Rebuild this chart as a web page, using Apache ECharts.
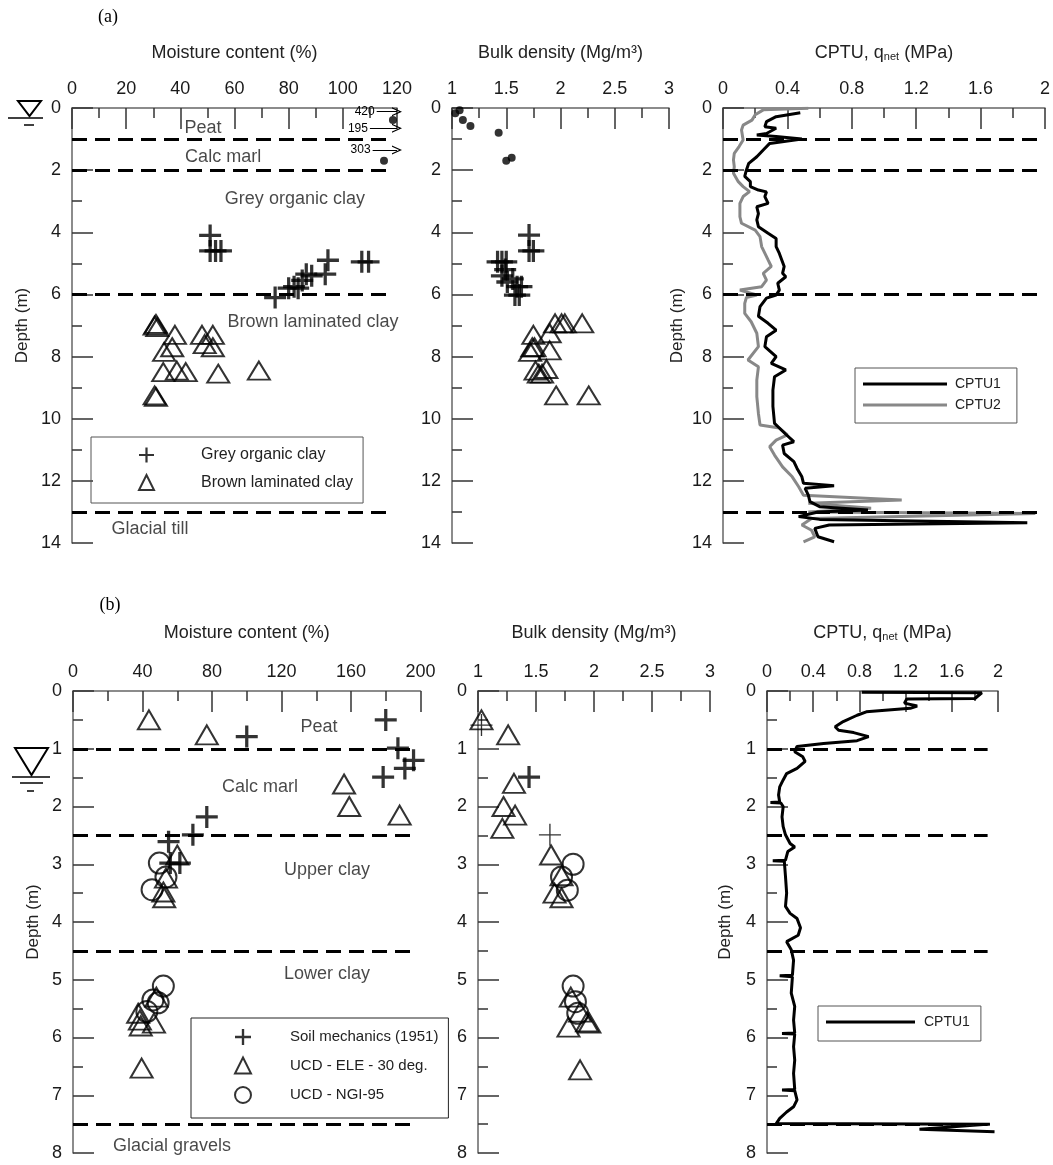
<!DOCTYPE html>
<html>
<head>
<meta charset="utf-8">
<script src="https://cdn.jsdelivr.net/npm/echarts@6/dist/echarts.min.js"></script>
<style>
  html, body { margin: 0; padding: 0; background: #fff; }
  #chart { width: 1053px; height: 1165px; }
</style>
</head>
<body>
<div id="chart"></div>
<script>
// ---- (a) moisture content (%) vs depth (m)
const greyClayMoistA = [[51,4.1],[51,4.6],[53,4.6],[55,4.6],[94.5,4.9],[93.5,5.35],[107,4.95],[109.5,4.95],
  [86.5,5.35],[88.5,5.4],[85,5.55],[82,5.75],[83.5,5.8],[80,5.8],[75,6.1]];
const brownClayMoistA = [[30.5,7.0],[31,6.95],[31.5,7.05],[38,7.3],[48,7.3],[52,7.3],[49,7.6],[52,7.7],[37,7.7],
  [34,7.85],[33.7,8.5],[38.7,8.45],[42,8.5],[54,8.55],[69,8.45],[30.5,9.25],[31,9.3]];
const upperMoistA = [[118.5,0.39],[115.2,1.7]];
// off-scale values shown with arrows
const offScaleA = [
  { label: '420', from: 112.5, depth: 0.12 },
  { label: '195', from: 110, depth: 0.65 },
  { label: '303', from: 111, depth: 1.35 }
];

// ---- (a) bulk density (Mg/m3)
const upperDensA = [[1.03,0.17],[1.07,0.07],[1.10,0.39],[1.17,0.58],[1.43,0.8],[1.5,1.7],[1.55,1.6]];
const greyClayDensA = [[1.71,4.09],[1.71,4.6],[1.75,4.6],[1.42,4.95],[1.46,4.95],[1.5,4.95],[1.49,5.2],[1.46,5.4],
  [1.51,5.6],[1.56,5.5],[1.64,5.75],[1.6,5.75],[1.62,6.02],[1.58,6.02]];
const brownClayDensA = [[1.95,6.93],[2.01,6.93],[2.04,6.93],[2.2,6.93],[1.75,7.3],[1.9,7.25],[1.74,7.7],[1.76,7.7],
  [1.72,7.85],[1.9,7.8],[1.87,8.4],[1.77,8.45],[1.8,8.55],[1.83,8.55],[1.96,9.25],[2.26,9.25]];

// ---- (a) CPTU q_net (MPa)
const cptu1A = [[0.48,0.15],[0.33,0.28],[0.27,0.44],[0.26,0.6],[0.33,0.65],[0.27,0.82],[0.21,0.87],[0.33,0.92],
  [0.49,1.0],[0.29,1.14],[0.25,1.35],[0.21,1.57],[0.16,1.78],[0.145,2.0],[0.135,2.2],[0.17,2.37],[0.17,2.53],
  [0.22,2.64],[0.27,2.7],[0.26,2.85],[0.28,3.07],[0.21,3.18],[0.22,3.4],[0.21,3.6],[0.22,3.82],[0.28,4.03],
  [0.33,4.2],[0.33,4.46],[0.35,4.68],[0.38,5.1],[0.37,5.32],[0.39,5.43],[0.34,5.64],[0.35,5.86],[0.33,6.02],
  [0.27,6.12],[0.23,6.39],[0.22,6.7],[0.28,6.93],[0.33,7.15],[0.27,7.36],[0.26,7.68],[0.33,8.0],[0.30,8.22],
  [0.39,8.43],[0.32,8.65],[0.31,9.08],[0.31,9.6],[0.32,10.15],[0.35,10.3],[0.39,10.5],[0.44,10.74],[0.37,10.85],
  [0.38,11.12],[0.44,11.38],[0.46,11.6],[0.49,11.87],[0.5,12.08],[0.69,12.16],[0.51,12.24],[0.53,12.46],
  [0.54,12.67],[0.6,12.83],[0.9,12.94],[0.59,13.0],[0.47,13.15],[0.6,13.24],[1.89,13.35],[0.66,13.42],
  [0.57,13.53],[0.59,13.8],[0.69,13.96]];
const cptu2A = [[0.53,0.01],[0.25,0.06],[0.2,0.22],[0.18,0.39],[0.125,0.55],[0.115,0.71],[0.125,1.03],[0.10,1.24],
  [0.07,1.46],[0.065,1.67],[0.07,1.89],[0.065,2.1],[0.095,2.37],[0.125,2.53],[0.165,2.69],[0.125,2.85],
  [0.105,3.07],[0.105,3.5],[0.115,3.71],[0.2,3.93],[0.23,4.14],[0.24,4.46],[0.28,4.89],[0.3,5.1],[0.25,5.32],
  [0.27,5.54],[0.24,5.75],[0.105,5.86],[0.21,6.02],[0.145,6.1],[0.135,6.29],[0.135,6.61],[0.175,6.88],
  [0.21,7.25],[0.22,7.68],[0.155,8.11],[0.22,8.33],[0.21,8.76],[0.21,9.29],[0.22,9.83],[0.23,10.2],[0.35,10.3],
  [0.4,10.52],[0.33,10.69],[0.29,10.9],[0.32,11.17],[0.37,11.55],[0.43,11.87],[0.47,12.19],[0.5,12.46],
  [1.11,12.62],[0.53,12.72],[0.92,12.88],[0.53,13.0],[1.94,13.05],[0.55,13.21],[0.49,13.42],[0.55,13.59],
  [0.57,13.8],[0.5,13.96]];

// ---- (b) moisture content
const soilMoistB = [[180,0.5],[100,0.79],[187,0.99],[196,1.2],[191,1.34],[178.5,1.49],[77,2.18],[69,2.49],
  [55,2.61],[61.5,2.98],[56,2.98]];
const eleMoistB = [[43.7,0.5],[77,0.76],[156,1.61],[159,2.0],[188,2.15],[60,2.84],[53.5,3.24],[52,3.48],
  [52.5,3.58],[48,5.3],[37.5,5.58],[38.5,5.7],[39,5.8],[46.6,5.75],[39.5,6.53]];
const ngiMoistB = [[49.7,2.98],[53.5,3.22],[45.5,3.44],[52,5.11],[46,5.35],[49,5.4],[42.5,5.55]];

// ---- (b) bulk density
const soilDensB = [[1.03,0.59],[1.44,1.49],[1.62,2.49]];
const soilDensBThin = [true, false, true];
const eleDensB = [[1.03,0.5],[1.26,0.76],[1.31,1.6],[1.22,2.0],[1.32,2.15],[1.21,2.38],[1.63,2.84],[1.72,3.2],
  [1.66,3.5],[1.72,3.58],[1.8,5.3],[1.88,5.56],[1.94,5.73],[1.96,5.75],[1.78,5.82],[1.88,6.56]];
const ngiDensB = [[1.82,3.0],[1.72,3.22],[1.77,3.45],[1.82,5.11],[1.84,5.38],[1.86,5.58]];

// ---- (b) CPTU
const cptu1B = [[0.82,0.02],[1.86,0.03],[1.80,0.13],[1.21,0.14],[1.19,0.21],[1.3,0.26],[1.24,0.3],[0.86,0.36],
  [0.78,0.42],[0.66,0.53],[0.59,0.62],[0.62,0.68],[0.75,0.72],[0.88,0.79],[0.78,0.86],[0.49,0.91],[0.26,0.96],
  [0.24,1.05],[0.31,1.14],[0.33,1.22],[0.26,1.34],[0.17,1.43],[0.14,1.54],[0.11,1.66],[0.10,1.8],[0.11,1.92],
  [0.03,1.93],[0.12,1.94],[0.14,2.0],[0.13,2.18],[0.14,2.35],[0.16,2.49],[0.2,2.64],[0.24,2.7],[0.18,2.78],
  [0.16,2.93],[0.05,2.94],[0.15,2.95],[0.16,3.21],[0.17,3.5],[0.16,3.73],[0.2,3.85],[0.26,3.94],[0.29,4.1],
  [0.27,4.23],[0.17,4.34],[0.21,4.48],[0.23,4.66],[0.22,4.92],[0.11,4.93],[0.22,4.95],[0.21,5.23],[0.24,5.46],
  [0.23,5.7],[0.24,5.92],[0.13,5.93],[0.24,5.94],[0.23,6.16],[0.24,6.39],[0.23,6.62],[0.24,6.9],[0.13,6.91],
  [0.24,6.92],[0.26,7.08],[0.23,7.2],[0.17,7.29],[0.11,7.4],[0.08,7.49],[1.93,7.5],[1.32,7.59],[1.97,7.63]];

// layer boundaries (depth, m) and soil layer names
const boundariesA = [1, 2, 6, 13];
const boundariesB = [1, 2.5, 4.5, 7.5];
const layersA = [
  { name: 'Peat', x: 48.4, d: 0.64 }, { name: 'Calc marl', x: 55.8, d: 1.58 },
  { name: 'Grey organic clay', x: 82.3, d: 2.93 }, { name: 'Brown laminated clay', x: 89, d: 6.89 },
  { name: 'Glacial till', x: 28.8, d: 13.55 }
];
const layersB = [
  { name: 'Peat', x: 141.6, d: 0.62 }, { name: 'Calc marl', x: 107.6, d: 1.66 },
  { name: 'Upper clay', x: 146.2, d: 3.1 }, { name: 'Lower clay', x: 146.2, d: 4.9 },
  { name: 'Glacial gravels', x: 57, d: 7.88 }
];

const SANS = "'Liberation Sans', Arial, Helvetica, sans-serif";
const SERIF = "'Liberation Serif', 'Times New Roman', serif";
const PLUS = 'path://M9.8,0H13.2V9.8H23V13.2H13.2V23H9.8V13.2H0V9.8H9.8Z';
const PLUS_THIN = 'path://M10.8,0H12.2V10.8H23V12.2H12.2V23H10.8V12.2H0V10.8H10.8Z';
const CHEVRON = 'path://M5,0L10,10L8.6,10L5,2.8L1.4,10L0,10Z';

const chart = echarts.init(document.getElementById('chart'));

function xAxis(gridIndex, min, max, interval, name, gap) {
  return {
    type: 'value', gridIndex, position: 'top', min, max, interval,
    name, nameLocation: 'middle', nameGap: gap,
    nameTextStyle: { fontSize: 18, fontFamily: SANS, color: '#222',
      rich: { sub: { fontSize: 11, fontFamily: SANS, color: '#222', verticalAlign: 'bottom' } } },
    axisLine: { show: true, lineStyle: { color: '#666', width: 1.5 } },
    axisTick: { show: true, inside: true, length: 21, lineStyle: { color: '#333', width: 1.5 } },
    minorTick: { show: true, splitNumber: 2, length: 10, lineStyle: { color: '#333', width: 1.5 } },
    axisLabel: { margin: 10, fontSize: 18, fontFamily: SANS, color: '#1a1a1a' },
    splitLine: { show: false }, minorSplitLine: { show: false }
  };
}

function yAxis(gridIndex, max, interval, name, gap) {
  return {
    type: 'value', gridIndex, inverse: true, min: 0, max, interval, position: 'left',
    name: name || '', nameLocation: 'middle', nameRotate: 90, nameGap: gap || 0,
    nameTextStyle: { fontSize: 17, fontFamily: SANS, color: '#222' },
    axisLine: { show: true, onZero: false, lineStyle: { color: '#666', width: 1.5 } },
    axisTick: { show: true, inside: true, length: 21, lineStyle: { color: '#333', width: 1.5 } },
    minorTick: { show: true, splitNumber: 2, length: 10, lineStyle: { color: '#333', width: 1.5 } },
    axisLabel: { margin: 11, fontSize: 18, fontFamily: SANS, color: '#1a1a1a' },
    splitLine: { show: false }, minorSplitLine: { show: false }
  };
}

function boundaryLines(depths, x0, x1) {
  return {
    silent: true, symbol: 'none', animation: false,
    label: { show: false },
    lineStyle: { color: '#000', width: 3, type: [15, 8] },
    data: depths.map(d => [{ coord: [x0, d] }, { coord: [x1, d] }])
  };
}

function plusSeries(name, idx, data, extra) {
  return Object.assign({
    name, type: 'scatter', xAxisIndex: idx, yAxisIndex: idx, data,
    symbol: PLUS, symbolSize: 22, itemStyle: { color: '#000' }, z: 3
  }, extra || {});
}
function triSeries(name, idx, data, size) {
  return {
    name, type: 'scatter', xAxisIndex: idx, yAxisIndex: idx, data,
    symbol: 'triangle', symbolSize: size,
    itemStyle: { color: 'rgba(0,0,0,0)', borderColor: '#000', borderWidth: 2 }, z: 2
  };
}
function circSeries(name, idx, data) {
  return {
    name, type: 'scatter', xAxisIndex: idx, yAxisIndex: idx, data,
    symbol: 'circle', symbolSize: 21,
    itemStyle: { color: 'rgba(0,0,0,0)', borderColor: '#000', borderWidth: 2 }, z: 2
  };
}
function layerLabels(idx, list) {
  return {
    name: 'layers', type: 'scatter', xAxisIndex: idx, yAxisIndex: idx, silent: true,
    symbolSize: 1, itemStyle: { color: 'rgba(0,0,0,0)' },
    data: list.map(l => ({ name: l.name, value: [l.x, l.d] })),
    label: { show: true, position: 'inside', formatter: '{b}', fontSize: 18, fontFamily: SANS, color: '#1a1a1a' }
  };
}

const option = {
  animation: false,
  backgroundColor: '#fff',
  textStyle: { fontFamily: SANS },
  grid: [
    { left: 72, top: 108, width: 325, height: 435 },
    { left: 452, top: 108, width: 217, height: 435 },
    { left: 723, top: 108, width: 326, height: 435 },
    { left: 73, top: 691, width: 347.5, height: 462 },
    { left: 478, top: 691, width: 232, height: 462 },
    { left: 767, top: 691, width: 231, height: 462 }
  ],
  xAxis: [
    xAxis(0, 0, 120, 20, 'Moisture content (%)', 46),
    xAxis(1, 1, 3, 0.5, 'Bulk density (Mg/m³)', 46),
    xAxis(2, 0, 2, 0.4, 'CPTU, q{sub|net} (MPa)', 46),
    xAxis(3, 0, 200, 40, 'Moisture content (%)', 49),
    xAxis(4, 1, 3, 0.5, 'Bulk density (Mg/m³)', 49),
    xAxis(5, 0, 2, 0.4, 'CPTU, q{sub|net} (MPa)', 49)
  ],
  yAxis: [
    yAxis(0, 14, 2, 'Depth (m)', 41),
    yAxis(1, 14, 2),
    yAxis(2, 14, 2, 'Depth (m)', 37),
    yAxis(3, 8, 1, 'Depth (m)', 31),
    yAxis(4, 8, 1),
    yAxis(5, 8, 1, 'Depth (m)', 33)
  ],
  legend: [
    {
      orient: 'vertical', left: 91, top: 437, selectedMode: false,
      data: ['Grey organic clay', 'Brown laminated clay'],
      itemWidth: 15, itemHeight: 15, itemGap: 11, padding: [10, 10, 12, 47],
      borderColor: '#555', borderWidth: 1, borderRadius: 0,
      textStyle: { fontSize: 16, fontFamily: SANS, color: '#222', lineHeight: 15, padding: [0, 0, 0, 42] }
    },
    {
      orient: 'vertical', left: 855, top: 368, selectedMode: false,
      data: [{ name: 'CPTU1', icon: 'path://M0,0H84V3H0Z' }, { name: 'CPTU2', icon: 'path://M0,0H84V3H0Z' }],
      itemWidth: 84, itemHeight: 14, itemGap: 7, padding: [9, 16, 11, 8],
      borderColor: '#555', borderWidth: 1, borderRadius: 0,
      textStyle: { fontSize: 14, fontFamily: SANS, color: '#222', lineHeight: 14, padding: [0, 0, 0, 3] }
    },
    {
      orient: 'vertical', left: 191, top: 1018, selectedMode: false,
      data: ['Soil mechanics (1951)', 'UCD - ELE - 30 deg.', 'UCD - NGI-95'],
      itemWidth: 16, itemHeight: 16, itemGap: 11.5, padding: [11, 10, 14, 43],
      borderColor: '#222', borderWidth: 1, borderRadius: 0,
      textStyle: { fontSize: 15, fontFamily: SANS, color: '#222', lineHeight: 16, padding: [0, 0, 0, 34] }
    },
    {
      orient: 'vertical', left: 818, top: 1006, selectedMode: false,
      data: [{ name: 'CPTU1', icon: 'path://M0,0H89V3H0Z' }],
      itemWidth: 89, itemHeight: 14, padding: [9, 11, 12, 8],
      borderColor: '#555', borderWidth: 1, borderRadius: 0,
      textStyle: { fontSize: 14, fontFamily: SANS, color: '#222', lineHeight: 14, padding: [0, 0, 0, 4] }
    }
  ],
  series: [
    // (a) moisture
    plusSeries('Grey organic clay', 0, greyClayMoistA, { markLine: boundaryLines(boundariesA, 0, 116.6) }),
    triSeries('Brown laminated clay', 0, brownClayMoistA, [22, 18]),
    {
      name: 'Peat / marl', type: 'scatter', xAxisIndex: 0, yAxisIndex: 0, data: upperMoistA,
      symbol: 'circle', symbolSize: 8, itemStyle: { color: '#000' },
      markLine: {
        silent: true, symbol: ['none', CHEVRON], symbolSize: [9, 10],
        lineStyle: { color: '#000', width: 1, type: 'solid' },
        label: { show: true, position: 'start', formatter: '{b}', fontSize: 12, fontFamily: SANS, color: '#000', distance: 2 },
        data: offScaleA.map(a => [{ coord: [a.from, a.depth], name: a.label }, { coord: [120, a.depth] }])
      }
    },
    layerLabels(0, layersA),
    // (a) density
    plusSeries('Grey organic clay', 1, greyClayDensA),
    triSeries('Brown laminated clay', 1, brownClayDensA, [22, 18]),
    {
      name: 'Peat / marl', type: 'scatter', xAxisIndex: 1, yAxisIndex: 1, data: upperDensA,
      symbol: 'circle', symbolSize: 8, itemStyle: { color: '#000' }
    },
    // (a) CPTU
    {
      name: 'CPTU2', type: 'line', xAxisIndex: 2, yAxisIndex: 2, data: cptu2A, symbol: 'none',
      lineStyle: { color: '#888', width: 3 }, itemStyle: { color: '#888' }, z: 2,
      markLine: boundaryLines(boundariesA, 0, 1.975)
    },
    {
      name: 'CPTU1', type: 'line', xAxisIndex: 2, yAxisIndex: 2, data: cptu1A, symbol: 'none',
      lineStyle: { color: '#000', width: 3 }, itemStyle: { color: '#000' }, z: 3
    },
    // (b) moisture
    plusSeries('Soil mechanics (1951)', 3, soilMoistB, { markLine: boundaryLines(boundariesB, 0, 194) }),
    triSeries('UCD - ELE - 30 deg.', 3, eleMoistB, [22, 19]),
    circSeries('UCD - NGI-95', 3, ngiMoistB),
    layerLabels(3, layersB),
    // (b) density
    plusSeries('Soil mechanics (1951)', 4, soilDensB.map((p, i) => ({
      value: p, symbol: soilDensBThin[i] ? PLUS_THIN : PLUS
    }))),
    triSeries('UCD - ELE - 30 deg.', 4, eleDensB, [22, 19]),
    circSeries('UCD - NGI-95', 4, ngiDensB),
    // (b) CPTU
    {
      name: 'CPTU1', type: 'line', xAxisIndex: 5, yAxisIndex: 5, data: cptu1B, symbol: 'none',
      lineStyle: { color: '#000', width: 3 }, itemStyle: { color: '#000' }, z: 3,
      markLine: boundaryLines(boundariesB, 0, 1.91)
    }
  ],
  graphic: [
    { type: 'text', x: 108, y: 17, style: { text: '(a)', fontSize: 18, fontFamily: SERIF, fill: '#000', align: 'center', verticalAlign: 'middle' } },
    { type: 'text', x: 110, y: 605, style: { text: '(b)', fontSize: 18, fontFamily: SERIF, fill: '#000', align: 'center', verticalAlign: 'middle' } },
    // water table symbols
    { type: 'polygon', shape: { points: [[18, 101], [41, 101], [29.5, 116]] }, style: { fill: 'none', stroke: '#000', lineWidth: 2 } },
    { type: 'line', shape: { x1: 8, y1: 118, x2: 43, y2: 118 }, style: { stroke: '#000', lineWidth: 1.5 } },
    { type: 'line', shape: { x1: 24, y1: 125, x2: 34, y2: 125 }, style: { stroke: '#000', lineWidth: 1.5 } },
    { type: 'polygon', shape: { points: [[15, 748], [48, 748], [31.5, 775]] }, style: { fill: 'none', stroke: '#000', lineWidth: 2 } },
    { type: 'line', shape: { x1: 12, y1: 777, x2: 50, y2: 777 }, style: { stroke: '#000', lineWidth: 1.5 } },
    { type: 'line', shape: { x1: 20, y1: 783, x2: 43, y2: 783 }, style: { stroke: '#000', lineWidth: 1.5 } },
    { type: 'line', shape: { x1: 27, y1: 791, x2: 34, y2: 791 }, style: { stroke: '#000', lineWidth: 1.5 } }
  ]
};

chart.setOption(option);
</script>
</body>
</html>
